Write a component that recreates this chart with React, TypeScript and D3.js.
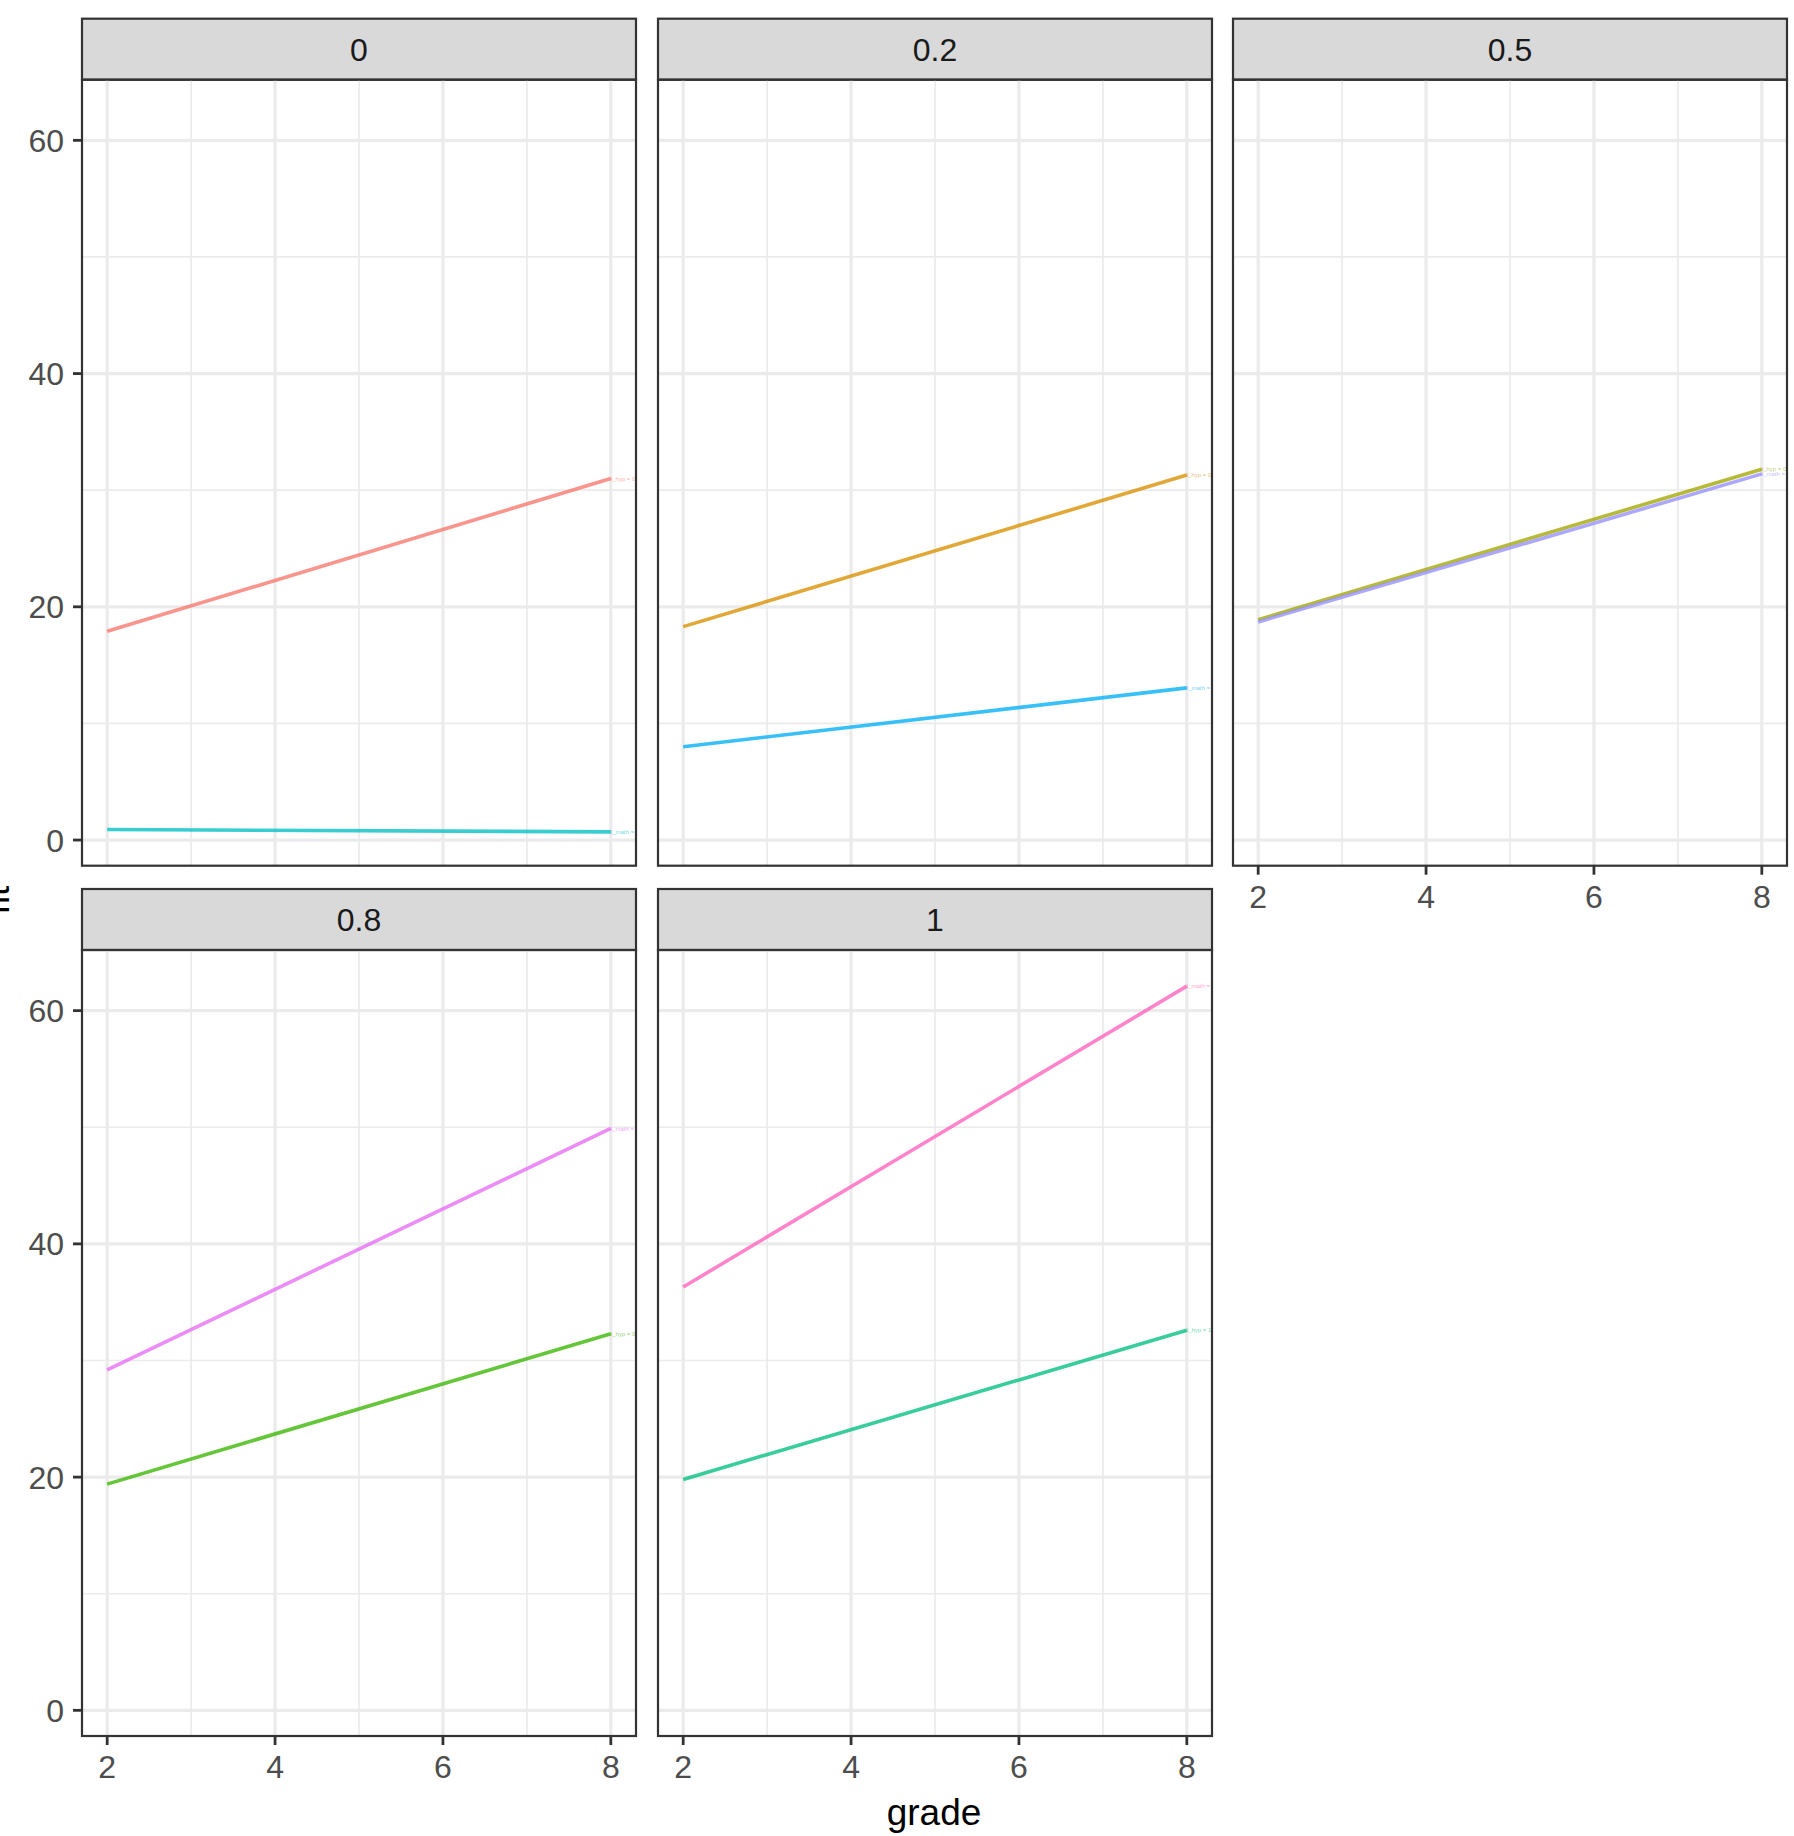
import React from "react";
import * as d3 from "d3";

const facets = ["0", "0.2", "0.5", "0.8", "1"];
const grades = [2, 8];
// per facet: hyp series (start,end), math series (start,end)
const hypValues = [
  [17.9, 31.0],
  [18.3, 31.3],
  [18.9, 31.8],
  [19.4, 32.3],
  [19.8, 32.6],
];
const mathValues = [
  [0.9, 0.7],
  [8.0, 13.05],
  [18.7, 31.4],
  [29.2, 49.9],
  [36.3, 62.1],
];
const hypColors = ["#F8766D", "#D89000", "#A3A500", "#39B600", "#00BF7D"];
const mathColors = ["#00BFC4", "#00B0F6", "#9590FF", "#E76BF3", "#FF62BC"];
const hypLabels = ["l_hyp = 0", "l_hyp = 0.2", "l_hyp = 0.5", "l_hyp = 0.8", "l_hyp = 1"];
const mathLabels = ["l_math = 0", "l_math = 0.2", "l_math = 0.5", "l_math = 0.8", "l_math = 1"];
const xMajor = [2, 4, 6, 8];
const xMinor = [3, 5, 7];
const yMajor = [0, 20, 40, 60];
const yMinor = [10, 30, 50];

const W = 1794;
const H = 1836;
const colX = [82, 658, 1233];
const panelW = 554;
const rowStripTop = [18.7, 889];
const stripH = 61;
const panelH = 786;

export default function App() {
  const x = d3.scaleLinear().domain([1.7, 8.3]).range([0, panelW]);
  const y = d3.scaleLinear().domain([-2.2, 65.2]).range([panelH, 0]);
  const line = d3
    .line<[number, number]>()
    .x((d) => x(d[0]))
    .y((d) => y(d[1]));

  const font = "Liberation Sans, Arial, sans-serif";

  return (
    <svg
      width={W}
      height={H}
      style={{ position: "absolute", left: 0, top: 0, background: "#fff" }}
      fontFamily={font}
    >
      <rect width={W} height={H} fill="#fff" />
      <defs>
        {facets.map((f, i) => (
          <clipPath id={`clip${i}`} key={i}>
            <rect x={0} y={0} width={panelW} height={panelH} />
          </clipPath>
        ))}
      </defs>
      {facets.map((f, i) => {
        const row = Math.floor(i / 3);
        const col = i % 3;
        const px = colX[col];
        const stripTop = rowStripTop[row];
        const py = stripTop + stripH;
        const showY = col === 0;
        const showX = row === 1 || col === 2;
        return (
          <g key={f}>
            {/* strip */}
            <rect
              x={px}
              y={stripTop}
              width={panelW}
              height={stripH}
              fill="#D9D9D9"
              stroke="#333333"
              strokeWidth={2.2}
            />
            <text
              x={px + panelW / 2}
              y={stripTop + stripH / 2}
              dy="0.36em"
              textAnchor="middle"
              fontSize={32}
              fill="#1A1A1A"
            >
              {f}
            </text>
            <g transform={`translate(${px},${py})`}>
              {/* grid */}
              {xMinor.map((v) => (
                <line key={"xm" + v} x1={x(v)} x2={x(v)} y1={0} y2={panelH} stroke="#EBEBEB" strokeWidth={1.7} />
              ))}
              {yMinor.map((v) => (
                <line key={"ym" + v} x1={0} x2={panelW} y1={y(v)} y2={y(v)} stroke="#EBEBEB" strokeWidth={1.7} />
              ))}
              {xMajor.map((v) => (
                <line key={"xM" + v} x1={x(v)} x2={x(v)} y1={0} y2={panelH} stroke="#EBEBEB" strokeWidth={3.3} />
              ))}
              {yMajor.map((v) => (
                <line key={"yM" + v} x1={0} x2={panelW} y1={y(v)} y2={y(v)} stroke="#EBEBEB" strokeWidth={3.3} />
              ))}
              <g clipPath={`url(#clip${i})`}>
                <path
                  d={line(grades.map((g, k) => [g, hypValues[i][k]]) as [number, number][]) || ""}
                  fill="none"
                  stroke={hypColors[i]}
                  strokeWidth={3.6}
                  strokeOpacity={0.78}
                />
                <path
                  d={line(grades.map((g, k) => [g, mathValues[i][k]]) as [number, number][]) || ""}
                  fill="none"
                  stroke={mathColors[i]}
                  strokeWidth={3.6}
                  strokeOpacity={0.78}
                />
                <text
                  x={x(8)}
                  y={y(hypValues[i][1])}
                  dy="0.35em"
                  fontSize={6}
                  fill={hypColors[i]}
                  fillOpacity={0.6}
                >
                  {hypLabels[i]}
                </text>
                <text
                  x={x(8)}
                  y={y(mathValues[i][1])}
                  dy="0.35em"
                  fontSize={6}
                  fill={mathColors[i]}
                  fillOpacity={0.6}
                >
                  {mathLabels[i]}
                </text>
              </g>
              <rect x={0} y={0} width={panelW} height={panelH} fill="none" stroke="#333333" strokeWidth={2.2} />
              {showY &&
                yMajor.map((v) => (
                  <g key={"yt" + v}>
                    <line x1={-9} x2={0} y1={y(v)} y2={y(v)} stroke="#333333" strokeWidth={2.8} />
                    <text x={-18} y={y(v)} dy="0.36em" textAnchor="end" fontSize={32} fill="#4D4D4D">
                      {v}
                    </text>
                  </g>
                ))}
              {showX &&
                xMajor.map((v) => (
                  <g key={"xt" + v}>
                    <line x1={x(v)} x2={x(v)} y1={panelH} y2={panelH + 9} stroke="#333333" strokeWidth={2.8} />
                    <text x={x(v)} y={panelH + 19} dy="0.72em" textAnchor="middle" fontSize={32} fill="#4D4D4D">
                      {v}
                    </text>
                  </g>
                ))}
            </g>
          </g>
        );
      })}
      <text x={934} y={1812} dy="0.36em" textAnchor="middle" fontSize={37} fill="#000">
        grade
      </text>
      <text
        transform={`translate(9,${900}) rotate(-90)`}
        textAnchor="middle"
        fontSize={37}
        fill="#000"
      >
        fit
      </text>
    </svg>
  );
}
